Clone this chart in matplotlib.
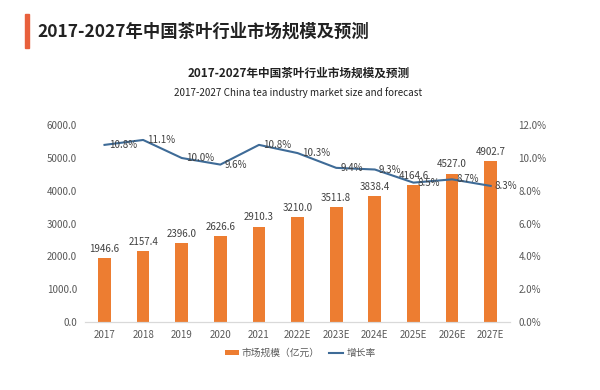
import matplotlib
matplotlib.use("Agg")
import matplotlib.pyplot as plt
from matplotlib.ticker import FuncFormatter

plt.rcParams['font.family'] = ['Noto Sans CJK SC', 'DejaVu Sans']

years = ['2017', '2018', '2019', '2020', '2021', '2022E', '2023E', '2024E', '2025E', '2026E', '2027E']
market_size = [1946.6, 2157.4, 2396.0, 2626.6, 2910.3, 3210.0, 3511.8, 3838.4, 4164.6, 4527.0, 4902.7]
growth = [10.8, 11.1, 10.0, 9.6, 10.8, 10.3, 9.4, 9.3, 8.5, 8.7, 8.3]

bar_color = '#ED7D31'
line_color = '#3E6B97'
text_color = '#595959'

fig = plt.figure(figsize=(6, 3.9), dpi=100)

# header
fig.patches.append(plt.Rectangle((0.042, 0.878), 0.006, 0.085, transform=fig.transFigure,
                                 color='#E8603C', zorder=3))
fig.text(0.062, 0.918, '2017-2027年中国茶叶行业市场规模及预测', fontsize=12.5,
         fontweight='bold', color='#222222', va='center', ha='left')
fig.text(0.497, 0.812, '2017-2027年中国茶叶行业市场规模及预测', fontsize=8.4,
         fontweight='bold', color='#222222', va='center', ha='center')
fig.text(0.497, 0.763, '2017-2027 China tea industry market size and forecast', fontsize=7.1,
         color='#222222', va='center', ha='center')

ax = fig.add_axes([0.142, 0.174, 0.708, 0.505])
x = list(range(len(years)))
bars = ax.bar(x, market_size, width=0.33, color=bar_color, label='市场规模（亿元）', zorder=2)
for xi, v in zip(x, market_size):
    ax.annotate(f'{v:.1f}', (xi, v), xytext=(0, 3), textcoords='offset points',
                ha='center', va='bottom', fontsize=7, color='#404040')
ax.set_xlim(-0.5, len(years) - 0.5)
ax.set_ylim(0, 6000)
ax.set_yticks(range(0, 6001, 1000))
ax.yaxis.set_major_formatter(FuncFormatter(lambda v, p: f'{v:.1f}'))
ax.set_xticks(x)
ax.set_xticklabels(years)

ax2 = ax.twinx()
line, = ax2.plot(x, growth, color=line_color, lw=1.5, label='增长率', zorder=3)
for xi, g in zip(x, growth):
    ax2.annotate(f'{g:.1f}%', (xi, g), xytext=(3, 0), textcoords='offset points',
                 ha='left', va='center', fontsize=7, color='#404040')
ax2.set_ylim(0, 12)
ax2.set_yticks(range(0, 13, 2))
ax2.yaxis.set_major_formatter(FuncFormatter(lambda v, p: f'{v:.1f}%'))

for a in (ax, ax2):
    for s in ('top', 'left', 'right'):
        a.spines[s].set_visible(False)
    a.spines['bottom'].set_color('#D9D9D9')
    a.tick_params(length=0, labelsize=7, colors=text_color, pad=6)

fig.legend([bars, line], ['市场规模（亿元）', '增长率'], loc='center', bbox_to_anchor=(0.5, 0.095),
           ncol=2, frameon=False, fontsize=7, labelcolor=text_color,
           handlelength=1.5, handleheight=0.5, handletextpad=0.3, columnspacing=0.9)

fig.savefig('out.png', dpi=100)
